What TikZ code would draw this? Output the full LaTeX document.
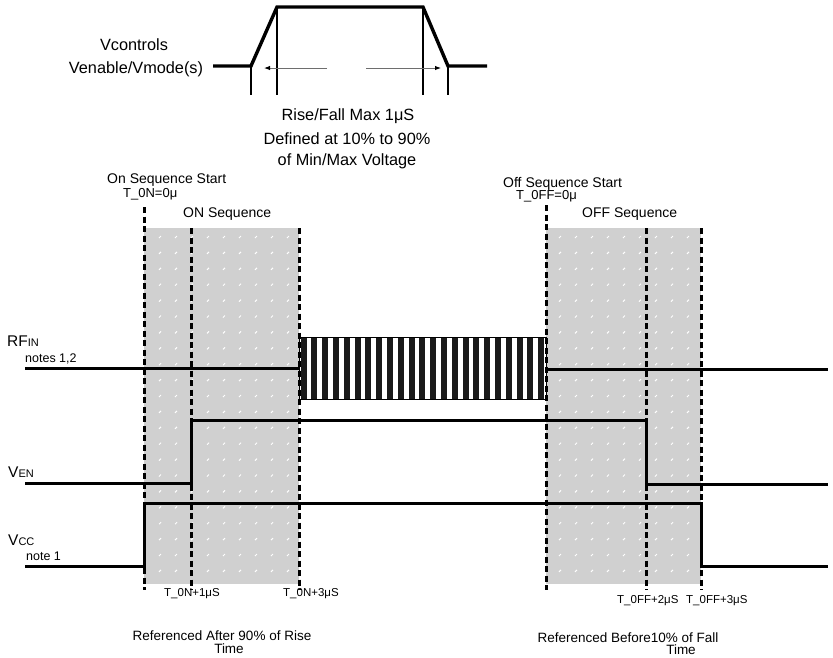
\documentclass[tikz,border=0pt]{standalone}
\usepackage{fontspec}
\setmainfont{Liberation Sans}
\usetikzlibrary{arrows.meta}
\definecolor{shadegray}{RGB}{208,208,208}
\definecolor{stripeblack}{RGB}{26,26,26}
\definecolor{arrowgray}{RGB}{110,110,110}
\begin{document}
\begin{tikzpicture}[x=1pt,y=-1pt,
  sig/.style={line width=3pt},
  thinline/.style={line width=1.1pt},
  dashv/.style={line width=3pt, dash pattern=on 6pt off 3.5pt},
  big/.style={inner sep=0pt, anchor=base, font=\fontsize{16.3}{18}\selectfont},
  mid/.style={inner sep=0pt, anchor=base west, font=\fontsize{14}{16}\selectfont},
  note/.style={inner sep=0pt, anchor=base west, font=\fontsize{12.5}{14}\selectfont},
  tlabel/.style={inner sep=0pt, anchor=base west, font=\fontsize{11.5}{13}\selectfont},
  ref/.style={inner sep=0pt, anchor=base, font=\fontsize{13.5}{15}\selectfont},
  sig name/.style={inner sep=0pt, anchor=base west}]
\useasboundingbox (0,0) rectangle (833,657);

% ---- top waveform ----
\draw[sig, line width=3.4pt, line join=miter] (213,66) -- (251,66) -- (277,7) -- (423,7) -- (448,66) -- (487,66);
\draw[thinline] (251,66) -- (251,95);
\draw[thinline] (277,7) -- (277,95);
\draw[thinline] (423,7) -- (423,95);
\draw[thinline] (448,66) -- (448,95);
\coordinate (la1) at (327,68);
\coordinate (la2) at (264,68);
\coordinate (ra1) at (366,68);
\coordinate (ra2) at (441,68);
\draw[arrowgray, line width=1pt, -{Latex[black,length=6pt,width=4.5pt]}] (la1) -- (la2);
\draw[arrowgray, line width=1pt, -{Latex[black,length=6pt,width=4.5pt]}] (ra1) -- (ra2);

\node[big] (vc) at (134,50) {Vcontrols};
\node[big] (ve) at (136,73) {Venable/Vmode(s)};
\node[big] (rf1) at (348,120) {Rise/Fall Max 1μS};
\node[big] (rf2) at (347,144) {Defined at 10\% to 90\%};
\node[big] (rf3) at (347,165) {of Min/Max Voltage};

% ---- shaded regions ----
\fill[shadegray] (144,228) rectangle (299,584);
\fill[shadegray] (546,228) rectangle (701,584);
\foreach \i in {0,...,8}{
  \foreach \j in {0,...,21}{
    \draw[white, line width=1pt] ({160+\i*16-1},{237+\j*15.9+1}) -- ++(2,-2);
    \draw[white, line width=1pt] ({560+\i*16-1},{237+\j*15.9+1}) -- ++(2,-2);
  }
}

% ---- dashed markers ----
\draw[dashv] (144,207) -- (144,590);
\draw[dashv] (191,228) -- (191,590);
\draw[dashv] (299,228) -- (299,590);
\draw[dashv] (546,205) -- (546,590);
\draw[dashv] (646,228) -- (646,590);
\draw[dashv] (701,228) -- (701,590);

% ---- RF IN ----
\draw[sig] (25,368) -- (299,368);
\foreach \k in {0,...,22}{
  \fill[stripeblack] ({300.5+\k*10.8},337) rectangle ++(6,62);
}
\draw[line width=0.9pt] (299,337) rectangle (546,399);
\draw[sig] (546,369) -- (828,369);

% ---- VEN ----
\draw[sig, line join=miter] (25,483) -- (191,483) -- (191,420) -- (646,420) -- (646,484) -- (828,484);

% ---- VCC ----
\draw[sig, line join=miter] (25,566) -- (144,566) -- (144,503) -- (701,503) -- (701,566) -- (828,566);

% ---- signal names ----
\node[sig name] (rfin) at (7,346.5) {{\fontsize{15.5}{17}\selectfont RF}{\fontsize{11}{13}\selectfont IN}};
\node[note] (n12) at (25,362) {notes 1,2};
\node[sig name] (ven) at (8,477.5) {{\fontsize{15.5}{17}\selectfont V}{\fontsize{11}{13}\selectfont EN}};
\node[sig name] (vcc) at (8,545.5) {{\fontsize{15.5}{17}\selectfont V}{\fontsize{11}{13}\selectfont CC}};
\node[note] (n1) at (26,560.5) {note 1};

% ---- sequence labels ----
\node[mid] (onstart) at (107,183) {On Sequence Start};
\node[tlabel, font=\fontsize{13}{15}\selectfont] (ton0) at (123,197) {T\_0N=0μ};
\node[mid] (onseq) at (183,217) {ON Sequence};
\node[mid] (offstart) at (503,187) {Off Sequence Start};
\node[tlabel, font=\fontsize{13}{15}\selectfont] (toff0) at (516,199) {T\_0FF=0μ};
\node[mid] (offseq) at (582,217) {OFF Sequence};

\node[tlabel] (ton1) at (164,596) {T\_0N+1μS};
\node[tlabel] (ton3) at (283,596) {T\_0N+3μS};
\node[tlabel] (toff2) at (617,603) {T\_0FF+2μS};
\node[tlabel] (toff3) at (686,603) {T\_0FF+3μS};

\node[ref] (refa) at (222,640) {Referenced After 90\% of Rise};
\node[ref] (refat) at (229,653) {Time};
\node[ref] (refb) at (628,642) {Referenced Before10\% of Fall};
\node[ref] (refbt) at (681,654) {Time};
\end{tikzpicture}
\end{document}
